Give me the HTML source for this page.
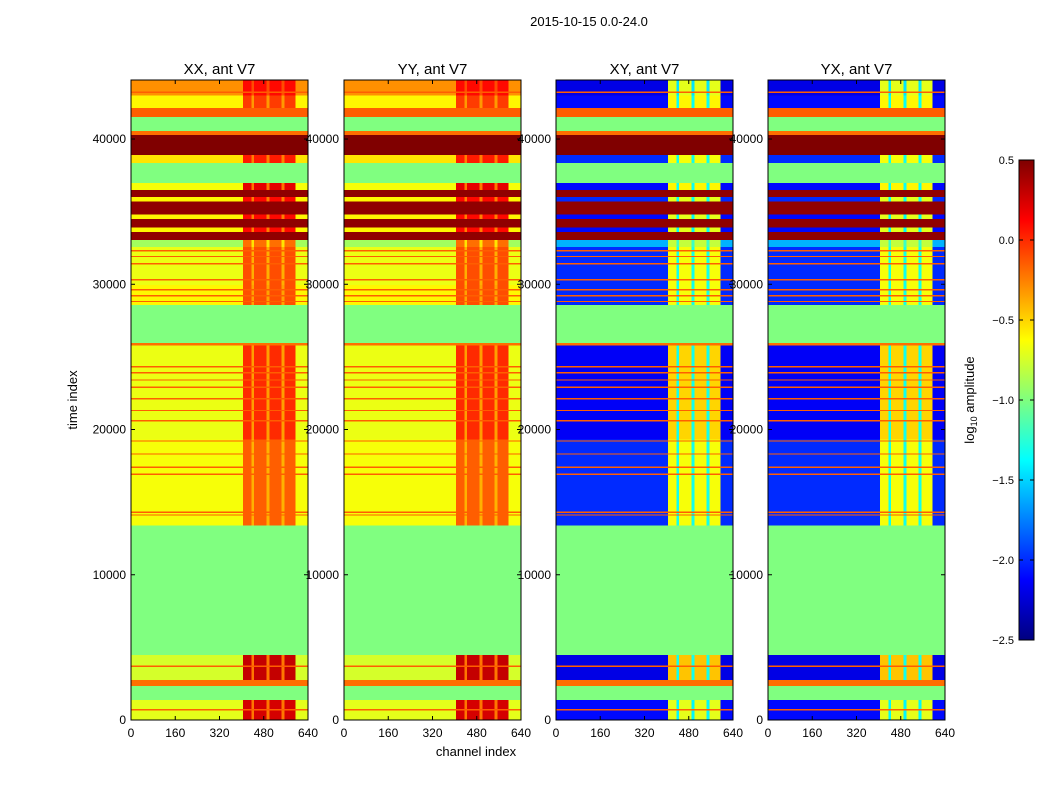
<!DOCTYPE html>
<html><head><meta charset="utf-8"><style>
body{margin:0;background:#fff;}
svg{display:block;font-family:"Liberation Sans",sans-serif;}
</style></head><body>
<svg id="fig" width="1050" height="800" xmlns="http://www.w3.org/2000/svg">
<defs>
<linearGradient id="jetgrad" x1="0" y1="1" x2="0" y2="0">
<stop offset="0" stop-color="#00007f"/><stop offset="0.125" stop-color="#0000ff"/><stop offset="0.375" stop-color="#00ffff"/><stop offset="0.5" stop-color="#7fff7f"/><stop offset="0.625" stop-color="#ffff00"/><stop offset="0.875" stop-color="#ff0000"/><stop offset="1" stop-color="#7f0000"/>
</linearGradient>
</defs>
<text x="589" y="26" font-size="13" text-anchor="middle">2015-10-15 0.0-24.0</text>
<text x="77" y="400" font-size="13" text-anchor="middle" transform="rotate(-90 77 400)">time index</text>
<text x="476" y="756" font-size="13" text-anchor="middle">channel index</text>
<g id="panels"></g>
<g id="labels"></g>
<rect x="1019" y="160" width="15" height="480" fill="url(#jetgrad)" stroke="#000"/>
<g id="cbticks"></g>
<text x="974" y="400" font-size="13" text-anchor="middle" transform="rotate(-90 974 400)">log<tspan font-size="9" dy="3">10</tspan><tspan dy="-3"> amplitude</tspan></text>
</svg>
<script>
const panelTitles = ["XX, ant V7","YY, ant V7","XY, ant V7","YX, ant V7"];
const panelKind = ["par","par","cross","cross"];
const bandStart = [0,1380,2340,2750,4470,13400,19300,25800,25950,28570,29950,32560,33050,33600,33900,34500,34800,35700,36000,36500,36970,38350,38900,40270,40550,41500,42130,43000];
const bandEnd   = [1380,2340,2750,4470,13400,19300,25800,25950,28570,29950,32560,33050,33600,33900,34500,34800,35700,36000,36500,36970,38350,38900,40270,40550,41500,42130,43000,44100];
const parBase   = [-0.7,-1,-0.2,-0.75,-1,-0.65,-0.68,-0.2,-1,-0.6,-0.68,-0.9,0.45,-0.6,0.45,-0.6,0.45,-0.6,0.45,-0.65,-1,-0.55,0.5,-0.2,-1,-0.15,-0.6,-0.3];
const parRfi    = [0.25,-1,-0.2,0.3,-1,-0.15,0.0,-0.2,-1,-0.1,-0.1,-0.2,0.45,0.1,0.45,0.1,0.45,0.1,0.45,0.2,-1,0.05,0.5,-0.2,-1,-0.15,-0.05,0.1];
const crossBase = [-2.1,-1,-0.2,-2.2,-1,-2.0,-2.15,-0.2,-1,-2.0,-2.0,-1.6,0.45,-2.1,0.45,-2.1,0.45,-2.0,0.45,-2.1,-1,-2.0,0.5,-0.2,-1,-0.15,-2.1,-2.2];
const crossRfi  = [-0.7,-1,-0.2,-0.45,-1,-0.65,-0.5,-0.2,-1,-0.65,-0.65,-0.8,0.45,-0.7,0.45,-0.7,0.45,-0.7,0.45,-0.6,-1,-0.65,0.5,-0.2,-1,-0.15,-0.6,-0.7];
const lineT = [700,3700,14100,14300,16900,17400,18300,19200,20600,21300,22100,22900,23400,23900,24300,28800,29200,29600,30300,31400,31900,32300,43200];
const lineV = [-0.15,-0.15,-0.15,-0.15,-0.15,-0.15,-0.15,-0.15,-0.15,-0.15,-0.15,-0.15,-0.15,-0.15,-0.15,-0.15,-0.15,-0.15,-0.15,-0.15,-0.15,-0.15,-0.15];
const rfiBlockStart = [405,445,500,555];
const rfiBlockEnd   = [435,490,545,595];
const xTicks = [0,160,320,480,640];
const yTicks = [0,10000,20000,30000,40000];
const cbTicks = [0.5,0.0,-0.5,-1.0,-1.5,-2.0,-2.5];

const NS="http://www.w3.org/2000/svg";
const panelX=[131,344,556,768], PW=177, PTOP=80, PBOT=720, TMAX=44064;
const vmin=-2.5,vmax=0.5;
function yS(t){return PBOT-(t/TMAX)*(PBOT-PTOP);}
function xS(p,c){return panelX[p]+c/640*PW;}
function cl(v){return Math.max(0,Math.min(1,v));}
function jet(v){const x=cl((v-vmin)/(vmax-vmin));
 const r=cl(1.5-Math.abs(4*x-3)),g=cl(1.5-Math.abs(4*x-2)),b=cl(1.5-Math.abs(4*x-1));
 return `rgb(${Math.round(r*255)},${Math.round(g*255)},${Math.round(b*255)})`;}
function mk(tag,attrs,parent){const e=document.createElementNS(NS,tag);for(const k in attrs)e.setAttribute(k,attrs[k]);parent.appendChild(e);return e;}
const panels=document.getElementById('panels'), labels=document.getElementById('labels');
for(let p=0;p<4;p++){
 const g=mk('g',{'shape-rendering':'crispEdges'},panels);
 
 
 const base=panelKind[p]==='par'?parBase:crossBase, rfi=panelKind[p]==='par'?parRfi:crossRfi;
 for(let i=0;i<bandStart.length;i++){
  const y1=yS(bandEnd[i]), y0=yS(bandStart[i]);
  const r=mk('rect',{x:xS(p,0),y:y1,width:PW,height:y0-y1,fill:jet(base[i])},g);
  
  
  if(rfi[i]!==base[i]){
   const gap=mk('rect',{x:xS(p,rfiBlockStart[0]),y:y1,width:xS(p,rfiBlockEnd[3])-xS(p,rfiBlockStart[0]),height:y0-y1,fill:jet((base[i]+rfi[i])/2)},g);
   
   
   for(let k=0;k<rfiBlockStart.length;k++){
    const b=mk('rect',{x:xS(p,rfiBlockStart[k]),y:y1,width:xS(p,rfiBlockEnd[k])-xS(p,rfiBlockStart[k]),height:y0-y1,fill:jet(rfi[i])},g);
    
    
   }
  }
 }
 for(let i=0;i<lineT.length;i++){
  const l=mk('rect',{x:xS(p,0),y:yS(lineT[i]+60),width:PW,height:yS(lineT[i])-yS(lineT[i]+60)+0.5,fill:jet(lineV[i])},g);
  
  
 }
 const fr=mk('rect',{x:panelX[p],y:PTOP,width:PW,height:PBOT-PTOP,fill:'none',stroke:'#000','stroke-width':1},panels);
 
 
 const t=mk('text',{x:panelX[p]+PW/2,y:74,'font-size':15,'text-anchor':'middle'},labels);
 t.textContent=panelTitles[p];
 
 
 for(const c of xTicks){
  const x=xS(p,c);
  mk('line',{x1:x,x2:x,y1:PBOT,y2:PBOT-4,stroke:'#000'},labels);
  mk('line',{x1:x,x2:x,y1:PTOP,y2:PTOP+4,stroke:'#000'},labels);
  const tx=mk('text',{x:x,y:PBOT+17,'font-size':12,'text-anchor':'middle'},labels);
  tx.textContent=c;
  
  
 }
 for(const v of yTicks){
  const y=yS(v);
  mk('line',{x1:panelX[p],x2:panelX[p]+4,y1:y,y2:y,stroke:'#000'},labels);
  mk('line',{x1:panelX[p]+PW,x2:panelX[p]+PW-4,y1:y,y2:y,stroke:'#000'},labels);
  const ty=mk('text',{x:panelX[p]-5,y:y+4,'font-size':12,'text-anchor':'end'},labels);
  ty.textContent=v;
  
  
 }
}
const cbg=document.getElementById('cbticks');
for(const v of cbTicks){
 const y=640-(v-vmin)/(vmax-vmin)*480;
 mk('line',{x1:1034,x2:1030,y1:y,y2:y,stroke:'#000'},cbg);
 mk('line',{x1:1019,x2:1023,y1:y,y2:y,stroke:'#000'},cbg);
 const t=mk('text',{x:1014,y:y+4,'font-size':11,'text-anchor':'end'},cbg);
 t.textContent=v.toFixed(1).replace('-','\u2212');
 
 
}
</script>
</body></html>
